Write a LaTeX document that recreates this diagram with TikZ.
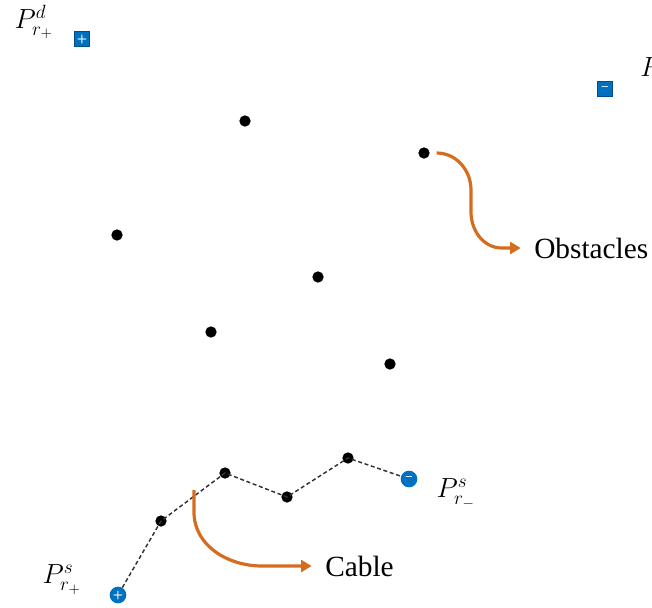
\documentclass[tikz,border=0pt]{standalone}
\usepackage{fontspec}
\setmainfont{Liberation Serif}
\usepackage{tikz}
\usetikzlibrary{positioning, arrows.meta, calc}

\definecolor{termblue}{RGB}{0,112,192}
\definecolor{arroworange}{RGB}{214,108,30}

\begin{document}
\begin{tikzpicture}[
                x=0.75pt, y=-0.75pt,
                obstacle/.style={
                    circle, fill=black,
                    minimum size=8.5pt, inner sep=0pt
                },
                termsq/.style={
                    rectangle, fill=termblue, draw=termblue!70!black, line width=0.3pt,
                    minimum size=11pt, inner sep=0pt,
                    text=white, font=\sffamily\bfseries\small
                },
                termci/.style={
                    circle, fill=termblue,
                    minimum size=12.5pt, inner sep=0pt,
                    text=white, font=\sffamily\bfseries\small
                },
                cable/.style={
                    draw=black!80, dashed, line width=1.1pt,
                    dash pattern=on 3pt off 2pt
                },
                pointer/.style={
                    draw=arroworange, line width=2.4pt,
                    -{Triangle[length=8pt, width=9pt]}
                },
                lbl/.style={
                    font=\fontsize{22}{26}\selectfont, inner sep=0pt
                }
            ]
            \useasboundingbox (0,0) rectangle (652,607);

            % --- Endpunkte (Ziel) ---
            \node[termsq] (dplus) at (82,39) {+};
            \node[termsq] (dminus) at (605,89) {--};
            \node[lbl] (ldplus) at (34,22) {$P_{r_+}^{d}$};
            \node[lbl, anchor=west] (ldminus) at (640,70) {$P_{r_-}^{d}$};

            % --- Hindernisse ---
            \node[obstacle] (o1) at (245,121) {};
            \node[obstacle] (o2) at (424,153) {};
            \node[obstacle] (o3) at (117,235) {};
            \node[obstacle] (o4) at (318,277) {};
            \node[obstacle] (o5) at (211,332) {};
            \node[obstacle] (o6) at (390,364) {};

            % --- Kabel ---
            \node[obstacle] (c1) at (161,521) {};
            \node[obstacle] (c2) at (225,473) {};
            \node[obstacle] (c3) at (287,497) {};
            \node[obstacle] (c4) at (348,458) {};
            \node[termci] (splus) at (118,595) {+};
            \node[termci] (sminus) at (409,479) {--};
            \draw[cable] (splus) -- (c1.center) -- (c2.center) -- (c3.center) -- (c4.center) -- (sminus);

            \node[lbl] (lsplus) at (62,580) {$P_{r_+}^{s}$};
            \node[lbl] (lsminus) at (456,494) {$P_{r_-}^{s}$};

            % --- Beschriftungen mit Pfeilen ---
            \node[lbl, anchor=west] (tobst) at (534,248) {Obstacles};
            \node[lbl, anchor=west] (tcable) at (325,566) {Cable};

            \coordinate (ostart) at ([xshift=5pt]o2.east);
            \coordinate (cstart) at (194,490);
            \draw[pointer] (ostart) to[out=0, in=90] (471,190) -- (471,212)
                to[out=-90, in=180] (502,248) -- ([xshift=-10pt]tobst.west);
            \draw[pointer] (cstart) -- (194,512) to[out=-90, in=180] (262,566)
                -- ([xshift=-10pt]tcable.west);

        \end{tikzpicture}
\end{document}
